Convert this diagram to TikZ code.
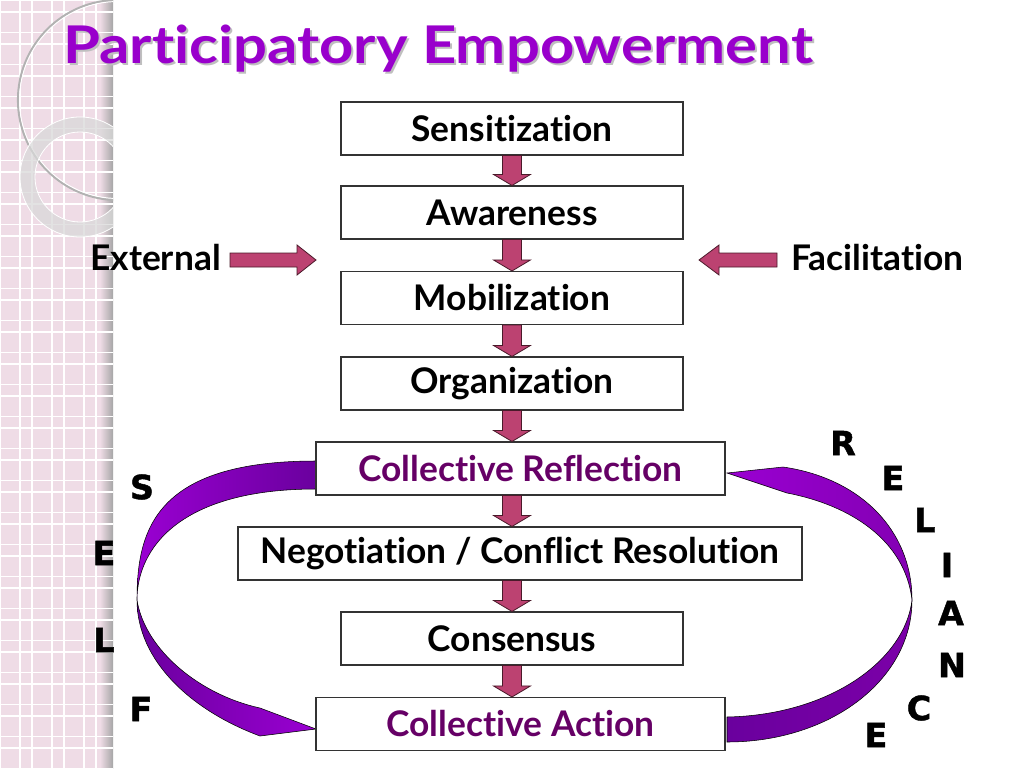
\documentclass[tikz,border=0pt]{standalone}
\usepackage{fontspec}
\setmainfont{Lato}[Ligatures=NoCommon]
\newfontfamily\ttlfont{Lato}[FakeStretch=1.15, Ligatures=NoCommon]
\newfontfamily\blk{DejaVu Sans}[BoldFeatures={FakeBold=1.3}]
\usetikzlibrary{calc}
\definecolor{ttl}{HTML}{9900CC}
\definecolor{dpur}{HTML}{660066}
\definecolor{arr}{HTML}{BC4271}
\definecolor{arrline}{HTML}{4A1A2A}
\definecolor{ribA}{HTML}{6A009E}
\definecolor{ribB}{HTML}{9A00D2}
\definecolor{pinkbg}{HTML}{EFDCE6}
\tikzset{
  box/.style={draw=black!80, line width=0.8pt, fill=white, inner sep=0pt,
    minimum height=39.75pt, font=\fontsize{26.5}{30}\selectfont\bfseries, text=black},
  stdbox/.style={box, minimum width=256.5pt},
  widebox/.style={box, minimum width=306.75pt, text=dpur},
  negbox/.style={box, minimum width=423pt},
  barrow/.style={fill=arr, draw=arrline, line width=0.6pt, line join=miter},
  lbl/.style={inner sep=0pt, font=\fontsize{26.5}{30}\selectfont\bfseries},
  letter/.style={inner sep=0pt, font=\blk\fontsize{25}{28}\selectfont\bfseries},
  ribbon/.style={draw=black, line width=0.4pt},
}
\newcommand\varrow[2]{%
  \draw[barrow] ($(axis|-#1.south)+(-9.5,0)$) -- ($(axis|-#2.north)+(-9.5,-11)$)
   -- ($(axis|-#2.north)+(-18.5,-11)$) -- (axis|-#2.north)
   -- ($(axis|-#2.north)+(18.5,-11)$) -- ($(axis|-#2.north)+(9.5,-11)$)
   -- ($(axis|-#1.south)+(9.5,0)$) -- cycle;}
\newcommand\harrow[3]{%
  \draw[barrow] ($(#1)+(0,-7)$) -- ($(#2)+({-(#3)},-7)$) -- ($(#2)+({-(#3)},-15)$)
   -- (#2) -- ($(#2)+({-(#3)},15)$) -- ($(#2)+({-(#3)},7)$) -- ($(#1)+(0,7)$) -- cycle;}
\begin{document}
\begin{tikzpicture}[x=0.75pt, y=-0.75pt]
\useasboundingbox (0,0) rectangle (1024,768);
\fill[white] (0,0) rectangle (1024,768);
% left decorative panel
\fill[pinkbg] (0,0) rectangle (106,768);
\shade[left color=pinkbg, right color=black!35] (100,0) rectangle (113,768);
\begin{scope}
\clip (0,0) rectangle (113,768);
\foreach \k in {0,...,3} {
  \draw[white, line width=0.9pt] (32*\k,0) -- (32*\k,768);
  \draw[white, line width=0.9pt] (32*\k+20,0) -- (32*\k+20,768);
}
\foreach \k in {0,...,24} {
  \draw[white, line width=0.9pt] (0,32*\k+12) -- (113,32*\k+12);
  \draw[white, line width=0.5pt] (0,32*\k) -- (113,32*\k);
}
\draw[black!30, line width=1.6pt] (118,100) circle[radius=100];
\draw[white, line width=0.7pt] (118,100) circle[radius=98.5];
\fill[black!15, opacity=0.75, even odd rule] (80,177) circle[radius=60] (80,177) circle[radius=45];
\draw[white, line width=0.6pt] (80,177) circle[radius=60] (80,177) circle[radius=45];
\end{scope}
% title
\node[anchor=base west, inner sep=0pt, text=black!25, font=\ttlfont\fontsize{39}{46}\selectfont\bfseries] (titleshadow) at (65,65) {Participatory Empowerment};
\node[anchor=base west, inner sep=0pt, text=ttl, font=\ttlfont\fontsize{39}{46}\selectfont\bfseries] (title) at (63,63) {Participatory Empowerment};
% ribbons
\shade[ribbon, left color=ribB, right color=ribA]
  (316,461) .. controls (155,461) and (137,530) .. (137,600)
  .. controls (137,549) and (179,489) .. (316,489) -- cycle;
\shade[ribbon, left color=ribA, right color=ribB]
  (137,600) .. controls (137,660) and (190,710) .. (260,736) -- (316,729) -- (260,708)
  .. controls (200,695) and (145,650) .. (137,600) -- cycle;
\shade[ribbon, left color=ribB, right color=ribB!85!black]
  (727,473) -- (783,467) .. controls (860,478) and (912,530) .. (912,600)
  .. controls (905,540) and (850,505) .. (787,493) -- cycle;
\shade[ribbon, left color=ribA, right color=ribB!80!black]
  (912,600) .. controls (912,680) and (830,742) .. (727,742) -- (727,717)
  .. controls (830,715) and (905,660) .. (912,600) -- cycle;
% boxes
\coordinate (axis) at (512,0);
\node[stdbox] (sens) at (512,128.5) {Sensitization};
\node[stdbox] (aware) at (512,212.5) {Awareness};
\node[stdbox] (mob) at (512,298) {Mobilization};
\node[stdbox] (org) at (512,383.5) {Organization};
\node[widebox] (cr) at (520.5,468.5) {Collective Reflection};
\node[negbox] (neg) at (520,553.5) {Negotiation / Conflict Resolution};
\node[stdbox] (cons) at (512,638.5) {Consensus};
\node[widebox] (ca) at (520.5,724) {Collective Action};
% vertical arrows
\varrow{sens}{aware}
\varrow{aware}{mob}
\varrow{mob}{org}
\varrow{org}{cr}
\varrow{cr}{neg}
\varrow{neg}{cons}
\varrow{cons}{ca}
% side labels and arrows
\node[lbl, anchor=east] (ext) at (221,258) {External};
\node[lbl, anchor=west] (fac) at (791,258) {Facilitation};
\coordinate (e0) at (230,260);
\coordinate (e1) at (316,260);
\coordinate (f0) at (777,260);
\coordinate (f1) at (699,260);
\harrow{e0}{e1}{19}
\harrow{f0}{f1}{-20}
% SELF letters
\node[letter] (s1) at (142,487) {S};
\node[letter] (s2) at (104,553) {E};
\node[letter] (s3) at (104,640) {L};
\node[letter] (s4) at (141,709) {F};
% RELIANCE letters
\node[letter] (r1) at (843,443) {R};
\node[letter] (r2) at (893,478) {E};
\node[letter] (r3) at (925,520) {L};
\node[letter] (r4) at (947,565) {I};
\node[letter] (r5) at (951,613) {A};
\node[letter] (r6) at (952,665) {N};
\node[letter] (r7) at (919,708) {C};
\node[letter] (r8) at (876,735) {E};
\end{tikzpicture}
\end{document}
